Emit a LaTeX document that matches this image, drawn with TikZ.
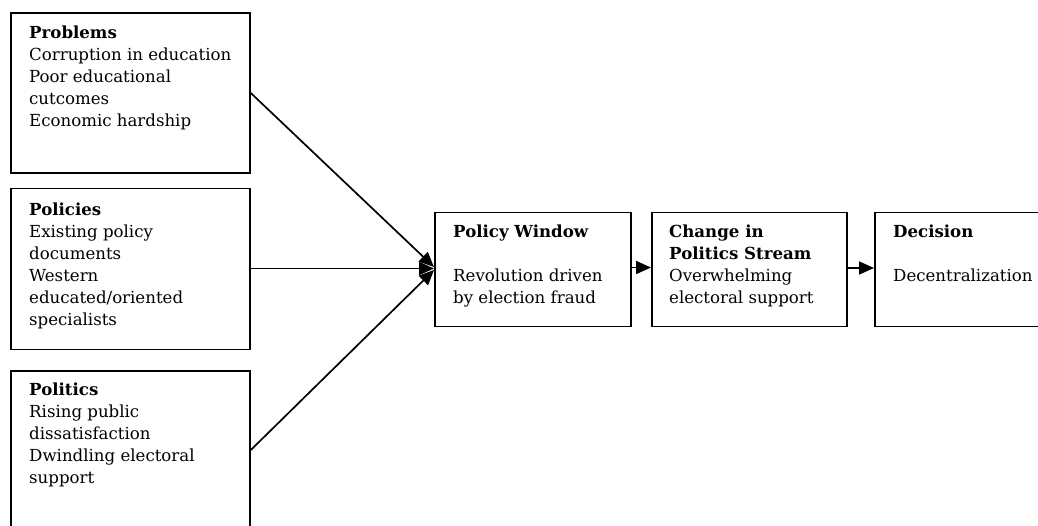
\documentclass[tikz,border=0pt]{standalone}
\usepackage{fontspec}
\setmainfont{DejaVu Serif}
\usetikzlibrary{arrows.meta}
\tikzset{
  box/.style={draw=black, line width=1.8pt, rectangle, inner sep=0pt},
  txt/.style={anchor=base west, inner sep=0pt, text=black},
  conn/.style={line width=1.7pt, -{Triangle[length=15pt,width=13pt]}},
}
\newcommand{\boxtext}[1]{\parbox[t]{230pt}{\fontsize{16.6}{22}\selectfont\raggedright #1}}
\begin{document}
\begin{tikzpicture}[x=1pt,y=-1pt]
\clip (0,0) rectangle (1038,525);
\fill[white] (0,0) rectangle (1038,525);
% boxes
\node[box, minimum width=239pt, minimum height=160pt, anchor=north west] (prob) at (10,12) {};
\node[box, minimum width=239pt, minimum height=161pt, anchor=north west] (poli) at (10,187.5) {};
\node[box, minimum width=239pt, minimum height=200pt, anchor=north west] (polt) at (10,370) {};
\node[box, minimum width=196pt, minimum height=114pt, anchor=north west] (pw) at (434,211.5) {};
\node[box, minimum width=195pt, minimum height=114pt, anchor=north west] (chg) at (651,211.5) {};
\node[box, minimum width=200pt, minimum height=114pt, anchor=north west] (dec) at (874,211.5) {};
% texts
\node[txt] (tprob) at (29,38.5) {\boxtext{\textbf{Problems}\\Corruption in education\\Poor educational\\cutcomes\\Economic hardship}};
\node[txt] (tpoli) at (29,215) {\boxtext{\textbf{Policies}\\Existing policy\\documents\\Western\\educated/oriented\\specialists}};
\node[txt] (tpolt) at (29,395) {\boxtext{\textbf{Politics}\\Rising public\\dissatisfaction\\Dwindling electoral\\support}};
\node[txt] (tpw) at (453,237) {\boxtext{\textbf{Policy Window}\\[22pt]Revolution driven\\by election fraud}};
\node[txt] (tchg) at (669,237) {\boxtext{\textbf{Change in}\\\textbf{Politics Stream}\\Overwhelming\\electoral support}};
\node[txt] (tdec) at (893,237) {\boxtext{\textbf{Decision}\\[22pt]Decentralization}};
% connectors
\coordinate (s1) at (prob.east |- 0,93);
\coordinate (s3) at (polt.east |- 0,450);
\coordinate (e1) at (pw.west |- 0,267);
\coordinate (e2) at (pw.west |- 0,268.5);
\coordinate (e3) at (pw.west |- 0,270);
\draw[conn] (s1) -- (e1);
\draw[conn] (poli.east |- e2) -- (e2);
\draw[conn] (s3) -- (e3);
\draw[conn] (pw.east |- 0,267.5) -- (chg.west |- 0,267.5);
\draw[conn] (chg.east |- 0,268) -- (dec.west |- 0,268);
\end{tikzpicture}
\end{document}
